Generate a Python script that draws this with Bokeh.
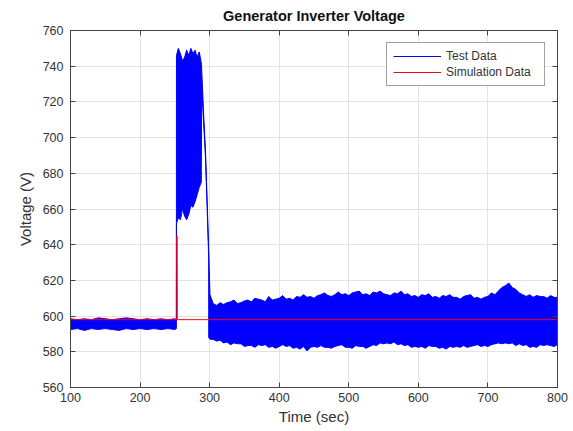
from bokeh.plotting import figure
from bokeh.models import (FixedTicker, Legend, LegendItem, LinearAxis, Range1d,
                          CustomLabelingPolicy)
from bokeh.embed import file_html
from bokeh.resources import INLINE

# ---------------- data ----------------
title_text = "Generator Inverter Voltage"
x_label = "Time (sec)"
y_label = "Voltage (V)"
x_ticks = [100, 200, 300, 400, 500, 600, 700, 800]
y_ticks = [560, 580, 600, 620, 640, 660, 680, 700, 720, 740, 760]

# Test data envelope (upper / lower extent of the noisy trace)
# steady state before the load step
t_pre = [100, 110, 120, 130, 140, 150, 160, 170, 180, 190, 200, 210, 220, 230, 240, 250, 252.2]
up_pre = [598.5, 598, 598.5, 598, 599, 598.5, 598, 598.5, 599, 598.5, 598, 598.5, 598, 598.5, 598, 598.5, 598]
lo_pre = [592.5, 593, 592, 593, 592.5, 593, 592.5, 592, 593, 592.5, 593, 592.5, 593, 592.5, 593, 592.5, 593]

# high-voltage burst
t_high = [252.3, 255, 258, 261, 264, 267, 270, 273, 276, 279, 282, 285, 288]
up_high = [746, 750, 747, 743, 745, 749, 746, 750, 747, 749, 745, 748, 742]
lo_high = [652, 655, 654, 660, 656, 654, 657, 662, 661, 664, 668, 672, 675]

# decay back to nominal
t_dec = [288.6, 291.5, 294, 296.4, 298.6]
up_dec = [738, 712, 693, 665, 638]
lo_dec = [728, 707, 689, 661, 633]

# noisy band after the event
t_post = [298.7, 300.5] + list(range(305, 805, 5))
up_post = [636, 612,
           607, 606, 607.5, 606.5, 607.5, 608, 609, 607, 607.5, 608.5, 609, 608, 610, 609.5, 609,
           608, 611, 609, 609.5, 610, 611.5, 609.5, 610, 609, 611, 610.5, 612, 610.5, 611,
           610, 611.5, 612, 613, 611.5, 611, 612, 613.5, 612, 612.5, 611.5, 613, 613.5, 614,
           612, 612.5, 611.5, 613.5, 613, 614, 612.5, 612, 611.5, 613, 612.5, 614, 612, 612.5,
           611, 611.5, 610.5, 612, 611.5, 612.5, 610.5, 611, 610, 611.5, 611, 612, 610.5, 610.5,
           609.5, 611, 611.5, 612, 610, 610.5, 609.5, 610.5, 611, 613, 612, 614, 616, 617,
           618.5, 616, 615, 613, 612, 611, 612, 610.5, 611.5, 611, 611, 610, 611.5, 610.5, 610.5]
lo_post = [588, 587,
           587, 586, 586.5, 585, 585.5, 584, 585, 584.5, 584.5, 583, 583.5, 583.5, 582.5, 584, 583.5,
           584, 582.5, 583, 582, 583, 584, 583, 583.5, 582, 582.5, 581.5, 583, 580.5, 582.5,
           583, 582.5, 583.5, 582.5, 582.5, 582, 583, 583.5, 584, 582.5, 582.5, 582, 583.5, 583,
           583, 582, 583, 584, 583.5, 585, 584.5, 585, 584.5, 585.5, 584, 584.5, 583.5, 584,
           582.5, 583, 582.5, 583, 582, 583.5, 583, 583, 582, 582.5, 581.5, 583, 582.5, 583,
           582.5, 583.5, 582.5, 583, 583.5, 584, 583, 583.5, 583, 584, 584.5, 585, 584.5, 585,
           584.5, 585, 583.5, 584.5, 583.5, 584, 582.5, 583, 582.5, 584, 583.5, 584, 583.5, 583, 584]

# Simulation data
t_sim = [100, 253, 253, 253.4, 800]
v_sim = [598, 598, 645, 598, 598]

t_test = t_pre + t_high + t_dec + t_post
up_test = up_pre + up_high + up_dec + up_post
lo_test = lo_pre + lo_high + lo_dec + lo_post

# ---------------- figure ----------------
FONT = "Liberation Sans"
TXT = "#333333"
AX = "#444444"
BLUE = "#0000ff"
RED = "#ff0000"

p = figure(width=573, height=431, x_range=Range1d(100, 800), y_range=Range1d(560, 760),
           output_backend="svg", toolbar_location=None,
           min_border_left=70, min_border_right=16, min_border_top=30, min_border_bottom=44,
           background_fill_color="white", border_fill_color="white")

p.title.text = title_text
p.title.align = "center"
p.title.text_font = FONT
p.title.text_font_size = "14.5px"
p.title.text_font_style = "bold"
p.title.text_color = "#111111"
p.title.standoff = 6

p.outline_line_color = AX
p.outline_line_width = 1

for ax in (p.xaxis[0], p.yaxis[0]):
    ax.major_label_text_font = FONT
    ax.major_label_text_font_size = "12.5px"
    ax.major_label_text_color = TXT
    ax.axis_label_text_font = FONT
    ax.axis_label_text_font_size = "15px"
    ax.axis_label_text_font_style = "normal"
    ax.axis_label_text_color = TXT
    ax.axis_line_color = AX
    ax.major_tick_line_color = AX
    ax.major_tick_in = 5
    ax.major_tick_out = 0
    ax.minor_tick_line_color = None

p.xaxis[0].ticker = FixedTicker(ticks=x_ticks)
p.yaxis[0].ticker = FixedTicker(ticks=y_ticks)
p.xaxis[0].axis_label = x_label
p.yaxis[0].axis_label = y_label
p.xaxis[0].major_label_standoff = 5
p.xaxis[0].axis_label_standoff = 3
p.yaxis[0].major_label_standoff = 7
p.yaxis[0].axis_label_standoff = 6

# inward ticks on the top and right edges of the box (no labels drawn)
top_ax = LinearAxis(ticker=FixedTicker(ticks=x_ticks),
                    major_label_policy=CustomLabelingPolicy(code="return new Set()"),
                    major_label_text_font_size="1px", major_label_standoff=0,
                    major_tick_in=5, major_tick_out=0, minor_tick_line_color=None,
                    axis_line_color=AX, major_tick_line_color=AX)
right_ax = LinearAxis(ticker=FixedTicker(ticks=y_ticks),
                      major_label_policy=CustomLabelingPolicy(code="return new Set()"),
                      major_label_text_font_size="1px", major_label_standoff=0,
                      major_tick_in=5, major_tick_out=0, minor_tick_line_color=None,
                      axis_line_color=AX, major_tick_line_color=AX)
p.add_layout(top_ax, "above")
p.add_layout(right_ax, "right")

p.xgrid.ticker = FixedTicker(ticks=x_ticks)
p.ygrid.ticker = FixedTicker(ticks=y_ticks)
p.grid.grid_line_color = "#e3e3e3"
p.grid.grid_line_width = 1

# test data (filled band of the noisy trace)
p.varea(x=t_test, y1=lo_test, y2=up_test, fill_color=BLUE, fill_alpha=1.0)
r_up = p.line(t_test, up_test, line_color=BLUE, line_width=1)
p.line(t_test, lo_test, line_color=BLUE, line_width=1)

# simulation data
r_sim = p.line(t_sim, v_sim, line_color=RED, line_width=1)

legend = Legend(items=[LegendItem(label="Test Data", renderers=[r_up]),
                       LegendItem(label="Simulation Data", renderers=[r_sim])],
                location="top_right")
legend.label_text_font = FONT
legend.label_text_font_size = "12px"
legend.label_text_color = TXT
legend.border_line_color = AX
legend.border_line_width = 1
legend.background_fill_alpha = 1.0
legend.glyph_width = 48
legend.glyph_height = 14
legend.label_height = 14
legend.label_standoff = 5
legend.padding = 6
legend.spacing = 2
legend.margin = 12
legend.label_width = 92
p.add_layout(legend)

open("out.html", "w").write(file_html(p, INLINE))
